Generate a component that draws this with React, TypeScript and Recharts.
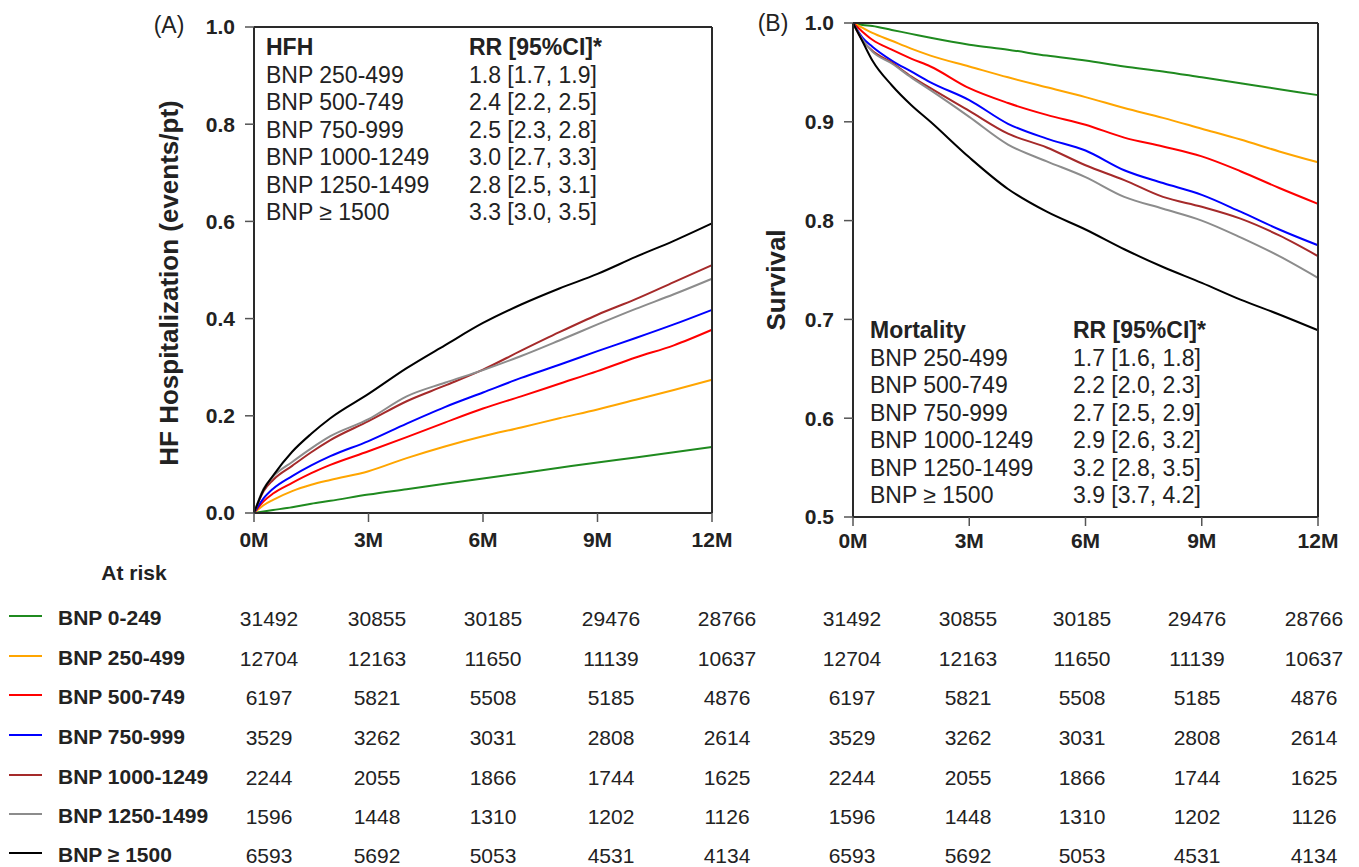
import { LineChart, Line, XAxis, YAxis } from "recharts";

const months = [0, 0.25, 0.5, 1, 1.5, 2, 3, 4, 5, 6, 7, 8, 9, 10, 11, 12];

const bnpGroups = [
  "BNP 0-249",
  "BNP 250-499",
  "BNP 500-749",
  "BNP 750-999",
  "BNP 1000-1249",
  "BNP 1250-1499",
  "BNP ≥ 1500",
];

// (A) cumulative HF hospitalization (events/pt)
const hfh0 = [0, 0.003, 0.006, 0.012, 0.019, 0.025, 0.038, 0.049, 0.06, 0.071, 0.082, 0.093, 0.104, 0.114, 0.125, 0.136];
const hfh250 = [0, 0.016, 0.027, 0.045, 0.058, 0.068, 0.086, 0.113, 0.137, 0.158, 0.176, 0.195, 0.213, 0.233, 0.253, 0.274];
const hfh500 = [0, 0.024, 0.04, 0.062, 0.082, 0.099, 0.127, 0.156, 0.186, 0.215, 0.24, 0.266, 0.292, 0.32, 0.345, 0.377];
const hfh750 = [0, 0.03, 0.05, 0.076, 0.098, 0.117, 0.148, 0.184, 0.218, 0.248, 0.278, 0.305, 0.333, 0.36, 0.388, 0.418];
const hfh1000 = [0, 0.045, 0.068, 0.097, 0.125, 0.15, 0.189, 0.23, 0.262, 0.295, 0.334, 0.372, 0.408, 0.44, 0.475, 0.51];
const hfh1250 = [0, 0.05, 0.075, 0.105, 0.133, 0.158, 0.193, 0.24, 0.268, 0.294, 0.323, 0.355, 0.388, 0.42, 0.45, 0.482];
const hfh1500 = [0, 0.048, 0.077, 0.126, 0.163, 0.195, 0.245, 0.298, 0.345, 0.391, 0.429, 0.462, 0.492, 0.527, 0.56, 0.596];

// (B) survival
const surv0 = [1, 0.998, 0.997, 0.993, 0.989, 0.985, 0.978, 0.973, 0.967, 0.962, 0.956, 0.951, 0.945, 0.939, 0.933, 0.927];
const surv250 = [1, 0.995, 0.99, 0.982, 0.974, 0.967, 0.956, 0.945, 0.935, 0.925, 0.914, 0.904, 0.893, 0.882, 0.87, 0.859];
const surv500 = [1, 0.991, 0.983, 0.973, 0.964, 0.956, 0.934, 0.919, 0.907, 0.897, 0.884, 0.875, 0.865, 0.85, 0.833, 0.817];
const surv750 = [1, 0.985, 0.976, 0.962, 0.951, 0.94, 0.922, 0.898, 0.883, 0.871, 0.851, 0.838, 0.826, 0.809, 0.791, 0.775];
const surv1000 = [1, 0.982, 0.972, 0.96, 0.946, 0.934, 0.911, 0.888, 0.874, 0.856, 0.841, 0.824, 0.814, 0.802, 0.785, 0.764];
const surv1250 = [1, 0.983, 0.971, 0.959, 0.945, 0.932, 0.905, 0.877, 0.86, 0.844, 0.824, 0.812, 0.8, 0.783, 0.764, 0.742];
const surv1500 = [1, 0.981, 0.962, 0.937, 0.917, 0.9, 0.864, 0.832, 0.809, 0.791, 0.771, 0.753, 0.737, 0.72, 0.705, 0.689];

const hfhRR = ["1.8 [1.7, 1.9]", "2.4 [2.2, 2.5]", "2.5 [2.3, 2.8]", "3.0 [2.7, 3.3]", "2.8 [2.5, 3.1]", "3.3 [3.0, 3.5]"];
const mortRR = ["1.7 [1.6, 1.8]", "2.2 [2.0, 2.3]", "2.7 [2.5, 2.9]", "2.9 [2.6, 3.2]", "3.2 [2.8, 3.5]", "3.9 [3.7, 4.2]"];

const atRisk0 = [31492, 30855, 30185, 29476, 28766];
const atRisk250 = [12704, 12163, 11650, 11139, 10637];
const atRisk500 = [6197, 5821, 5508, 5185, 4876];
const atRisk750 = [3529, 3262, 3031, 2808, 2614];
const atRisk1000 = [2244, 2055, 1866, 1744, 1625];
const atRisk1250 = [1596, 1448, 1310, 1202, 1126];
const atRisk1500 = [6593, 5692, 5053, 4531, 4134];

const hfhSeries = [hfh0, hfh250, hfh500, hfh750, hfh1000, hfh1250, hfh1500];
const survSeries = [surv0, surv250, surv500, surv750, surv1000, surv1250, surv1500];
const atRiskRows = [atRisk0, atRisk250, atRisk500, atRisk750, atRisk1000, atRisk1250, atRisk1500];

const colors = ["#1f8a1f", "#ffa500", "#ff0000", "#0000ff", "#a52a2a", "#8c8c8c", "#000000"];
const font = "'Liberation Sans', Arial, Helvetica, sans-serif";
const ink = "#222";

const xTicks = [0, 3, 6, 9, 12];
const axisLine = { stroke: "#2a2a2a", strokeWidth: 2 };
const tickLine = { stroke: "#555", strokeWidth: 1.5 };
const tickStyle = { fill: ink, fontSize: 21, fontWeight: 700, fontFamily: font };

function Panel({ series, yDomain, yTicks, left, width, margin, xTickMargin }) {
  const data = months.map((t, i) => {
    const row = { t };
    series.forEach((s, k) => (row["s" + k] = s[i]));
    return row;
  });
  return (
    <div style={{ position: "absolute", left, top: 0 }}>
      <LineChart width={width} height={560} data={data} margin={margin}>
        <XAxis
          xAxisId="bottom"
          type="number"
          dataKey="t"
          domain={[0, 12]}
          ticks={xTicks}
          tickFormatter={(m) => `${m}M`}
          height={40}
          tickSize={9}
          tickMargin={xTickMargin}
          axisLine={axisLine}
          tickLine={tickLine}
          tick={tickStyle}
        />
        <XAxis
          xAxisId="top"
          orientation="top"
          type="number"
          dataKey="t"
          domain={[0, 12]}
          ticks={xTicks}
          height={9}
          tickSize={9}
          axisLine={axisLine}
          tickLine={tickLine}
          tick={false}
        />
        <YAxis
          yAxisId="left"
          type="number"
          domain={yDomain}
          ticks={yTicks}
          tickFormatter={(v) => v.toFixed(1)}
          width={60}
          tickSize={9}
          tickMargin={10}
          axisLine={axisLine}
          tickLine={tickLine}
          tick={tickStyle}
        />
        <YAxis
          yAxisId="right"
          orientation="right"
          type="number"
          domain={yDomain}
          ticks={yTicks}
          width={9}
          tickSize={9}
          axisLine={axisLine}
          tickLine={tickLine}
          tick={false}
        />
        {series.map((_, k) => (
          <Line
            key={k}
            xAxisId="bottom"
            yAxisId="left"
            type="monotone"
            dataKey={"s" + k}
            stroke={colors[k]}
            strokeWidth={2}
            dot={false}
            isAnimationActive={false}
          />
        ))}
      </LineChart>
    </div>
  );
}

function Inset({ left, top, title, values }) {
  const rowH = 27.5;
  const rows = [[title, "RR [95%CI]*"], ...values.map((v, i) => [bnpGroups[i + 1], v])];
  return (
    <div style={{ position: "absolute", left, top, fontSize: 23, lineHeight: `${rowH}px`, color: ink }}>
      {rows.map((r, i) => (
        <div key={i} style={{ display: "flex", fontWeight: i === 0 ? 700 : 400, whiteSpace: "nowrap" }}>
          <div style={{ width: 203 }}>{r[0]}</div>
          <div>{r[1]}</div>
        </div>
      ))}
    </div>
  );
}

function Centered({ x, y, children, style }) {
  return (
    <div
      style={{
        position: "absolute",
        left: x,
        top: y,
        transform: "translate(-50%, -50%)",
        whiteSpace: "nowrap",
        lineHeight: 1,
        ...style,
      }}
    >
      {children}
    </div>
  );
}

const colA = [269, 377, 493, 611, 727];
const colB = [852, 968, 1082, 1197, 1314];
const rowY = [618, 658, 697, 737, 777, 816, 855];

export default function App() {
  return (
    <div
      style={{
        position: "absolute",
        left: 0,
        top: 0,
        width: 1359,
        height: 867,
        background: "#fff",
        fontFamily: font,
        color: ink,
        overflow: "hidden",
      }}
    >
      <Panel
        series={hfhSeries}
        yDomain={[0, 1]}
        yTicks={[0, 0.2, 0.4, 0.6, 0.8, 1]}
        left={0}
        width={760}
        margin={{ top: 18, right: 39, bottom: 7, left: 194 }}
        xTickMargin={10}
      />
      <Panel
        series={survSeries}
        yDomain={[0.5, 1]}
        yTicks={[0.5, 0.6, 0.7, 0.8, 0.9, 1]}
        left={600}
        width={759}
        margin={{ top: 14, right: 32, bottom: 3, left: 193 }}
        xTickMargin={7}
      />

      <Centered x={169} y={25} style={{ fontSize: 23 }}>(A)</Centered>
      <Centered x={773} y={23} style={{ fontSize: 23 }}>(B)</Centered>
      <Centered x={169} y={283} style={{ fontSize: 26, fontWeight: 700, transform: "translate(-50%, -50%) rotate(-90deg)" }}>
        HF Hospitalization (events/pt)
      </Centered>
      <Centered x={776} y={280} style={{ fontSize: 26, fontWeight: 700, transform: "translate(-50%, -50%) rotate(-90deg)" }}>
        Survival
      </Centered>

      <Inset left={266} top={34} title="HFH" values={hfhRR} />
      <Inset left={870} top={317} title="Mortality" values={mortRR} />

      <Centered x={134} y={572} style={{ fontSize: 21, fontWeight: 700 }}>At risk</Centered>
      {atRiskRows.map((row, i) => (
        <div key={i}>
          <div style={{ position: "absolute", left: 9, top: rowY[i] - 3, width: 33, height: 2, background: colors[i] }} />
          <div style={{ position: "absolute", left: 58, top: rowY[i] - 12, fontSize: 21, lineHeight: "24px", fontWeight: 700, whiteSpace: "nowrap" }}>
            {bnpGroups[i]}
          </div>
          {row.map((n, j) => (
            <Centered key={"a" + j} x={colA[j]} y={rowY[i]} style={{ fontSize: 21 }}>{n}</Centered>
          ))}
          {row.map((n, j) => (
            <Centered key={"b" + j} x={colB[j]} y={rowY[i]} style={{ fontSize: 21 }}>{n}</Centered>
          ))}
        </div>
      ))}
    </div>
  );
}
